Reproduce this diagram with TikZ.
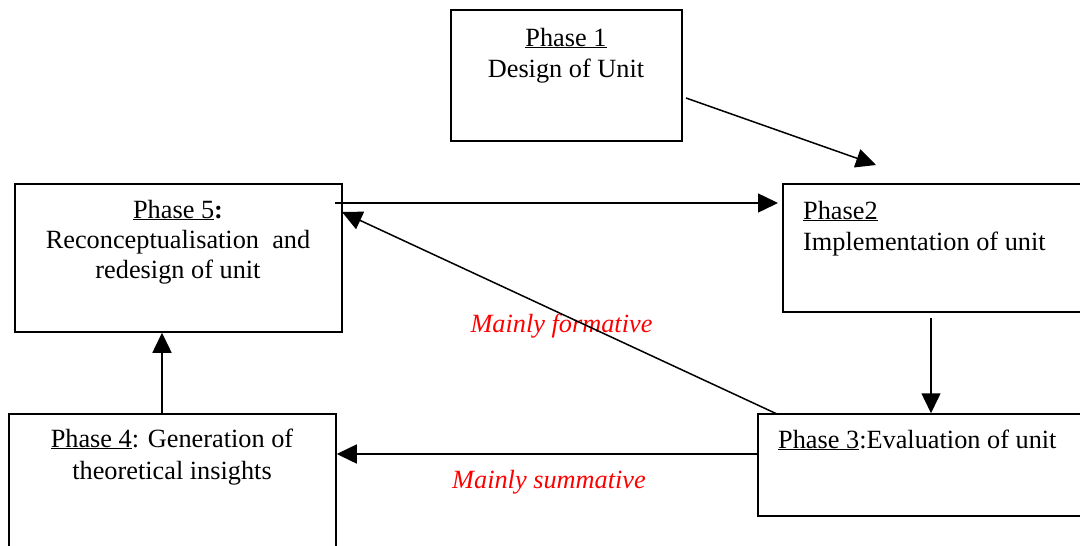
\documentclass[tikz,border=0pt]{standalone}
\usepackage{fontspec}
\setmainfont{Liberation Serif}
\usetikzlibrary{arrows.meta}
\begin{document}
\begin{tikzpicture}[x=1pt,y=-1pt,
  box/.style={draw, line width=1.5pt, inner sep=0pt},
  txt/.style={anchor=base, inner sep=0pt, font=\fontsize{26.3}{31.5}\selectfont},
  lbl/.style={anchor=base, inner sep=0pt, text=red, font=\fontsize{26.3}{31.5}\selectfont\itshape},
  conn/.style={line width=1.5pt, -{Triangle[length=20pt,width=19pt]}}]
\useasboundingbox (0,0) rectangle (1080,546);
\clip (0,0) rectangle (1080,546);
% boxes
\node[box, minimum width=231, minimum height=131] (p1) at (566.5,75.5) {};
\node[box, minimum width=327, minimum height=148] (p5) at (178.5,258) {};
\node[box, minimum width=307, minimum height=128] (p2) at (936.5,248) {};
\node[box, minimum width=327, minimum height=146] (p4) at (172.5,487) {};
\node[box, minimum width=332, minimum height=102] (p3) at (924,465) {};
% texts
\node[txt] (t1a) at (566,46) {\underline{Phase 1}};
\node[txt] (t1b) at (566,77) {Design of Unit};
\node[txt] (t5a) at (178,218) {\underline{Phase 5}\textbf{:}};
\node[txt] (t5b) at (178,248) {Reconceptualisation\ \ and};
\node[txt] (t5c) at (178,278) {redesign of unit};
\node[txt, anchor=base west] (t2a) at (803,219) {\underline{Phase2}};
\node[txt, anchor=base west] (t2b) at (803,250) {Implementation of unit};
\node[txt] (t4a) at (172,447) {\underline{Phase 4}: Generation of};
\node[txt] (t4b) at (172,479) {theoretical insights};
\node[txt, anchor=base west] (t3a) at (778,448) {\underline{Phase 3}:Evaluation of unit};
\node[lbl] (lf) at (561.5,332) {Mainly formative};
\node[lbl] (ls) at (549,488) {Mainly summative};
% connector end points
\coordinate (c12s) at (686,98);
\coordinate (c12e) at (876,165);
\coordinate (c52s) at (335,203);
\coordinate (c52e) at (778,203);
\coordinate (c35s) at (777,414);
\coordinate (c35e) at (342,212);
\coordinate (c34y) at (0,454);
\coordinate (c23s) at (931,318);
\coordinate (c45x) at (162,0);
% connectors
\draw[conn] (c12s) -- (c12e);
\draw[conn] (c52s) -- (c52e);
\draw[conn] (c35s) -- (c35e);
\draw[conn] (c34y -| p3.west) -- (c34y -| p4.east);
\draw[conn] (c23s) -- (c23s |- p3.north);
\draw[conn] (c45x |- p4.north) -- (c45x |- p5.south);
\end{tikzpicture}
\end{document}
